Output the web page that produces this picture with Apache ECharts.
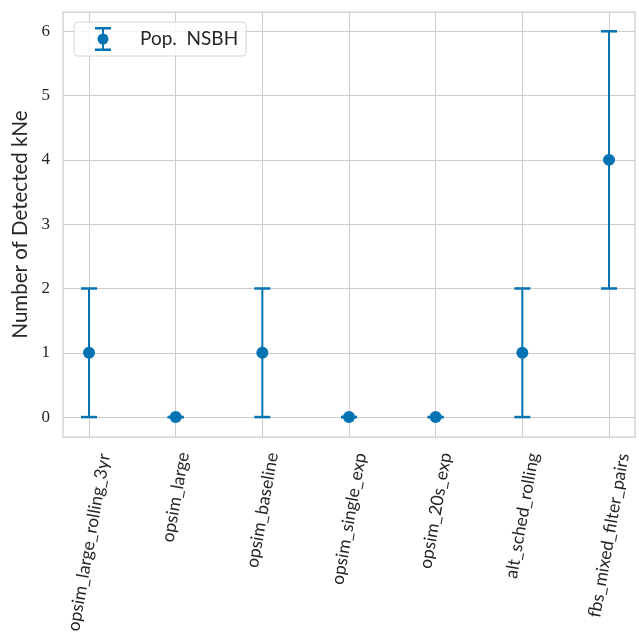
<!DOCTYPE html>
<html>
<head>
<meta charset="utf-8">
<script src="https://cdn.jsdelivr.net/npm/echarts@6/dist/echarts.min.js"></script>
<style>
  html, body { margin: 0; padding: 0; background: #ffffff; }
  #chart { width: 639px; height: 638px; }
</style>
</head>
<body>
<div id="chart"></div>
<script>
// Survey strategies (x categories)
const strategies = [
  'opsim_large_rolling_3yr',
  'opsim_large',
  'opsim_baseline',
  'opsim_single_exp',
  'opsim_20s_exp',
  'alt_sched_rolling',
  'fbs_mixed_filter_pairs'
];
// Detected kilonovae for the NSBH population, with error range
const detected = [1, 0, 1, 0, 0, 1, 4];
const lowerBound = [0, 0, 0, 0, 0, 0, 2];
const upperBound = [2, 0, 2, 0, 0, 2, 6];
// Tick values
const yTicks = [0, 1, 2, 3, 4, 5, 6];
const xTicks = strategies.map((_, i) => i);

const blue = '#0173b2';
const gridGray = '#cccccc';
const textColor = '#262626';
const labelFont = 'Lato, "Open Sans", sans-serif';
const labelSize = 17.5;
const labelAngle = 80;

// Offset each rotated label so its footprint is centred under its tick
const ctx = document.createElement('canvas').getContext('2d');
ctx.font = labelSize + 'px ' + labelFont;
const rad = labelAngle * Math.PI / 180;
const rich = {};
strategies.forEach((s, i) => {
  const w = ctx.measureText(s).width;
  rich['r' + i] = {
    fontFamily: labelFont,
    fontSize: labelSize,
    color: textColor,
    padding: [w * Math.cos(rad) / Math.sin(rad), 0, 0, 0]
  };
});

const errorPoints = strategies.map((_, i) => [i, lowerBound[i], upperBound[i]]);
const valuePoints = strategies.map((_, i) => [i, detected[i]]);

const legendIcon = 'path://M0 0H16V2.5H0Z M0 21.5H16V24H0Z M7 0H9V24H7Z ' +
  'M2.5 12A5.5 5.5 0 1 1 13.5 12A5.5 5.5 0 1 1 2.5 12Z';

const chart = echarts.init(document.getElementById('chart'), null, { renderer: 'canvas' });
chart.setOption({
  animation: false,
  backgroundColor: '#ffffff',
  grid: {
    left: 63, right: 4, top: 12, bottom: 201,
    show: true, borderColor: gridGray, borderWidth: 1.25,
    containLabel: false
  },
  legend: {
    left: 74, top: 22,
    padding: [5, 8, 5, 21],
    itemWidth: 16, itemHeight: 24,
    backgroundColor: 'rgba(255,255,255,0.8)',
    borderColor: '#d6d6d6', borderWidth: 1, borderRadius: 4,
    data: [{ name: 'Pop. NSBH', icon: legendIcon }],
    formatter: name => name.replace('. ', '.  '),
    textStyle: {
      fontFamily: labelFont, fontSize: 19, color: textColor,
      padding: [0, 0, 0, 24]
    }
  },
  xAxis: {
    type: 'value',
    min: -0.3, max: 6.3,
    axisLine: { show: false },
    axisTick: { show: false, customValues: xTicks },
    splitLine: { show: true, lineStyle: { color: gridGray, width: 1 } },
    axisLabel: {
      customValues: xTicks,
      rotate: labelAngle,
      margin: 14,
      formatter: v => '{r' + v + '|' + strategies[v] + '}',
      rich: rich
    }
  },
  yAxis: {
    type: 'value',
    min: -0.31, max: 6.3,
    name: 'Number of Detected kNe',
    nameLocation: 'middle',
    nameGap: 30,
    nameTextStyle: { fontFamily: labelFont, fontSize: 20.5, color: textColor },
    axisLine: { show: false },
    axisTick: { show: false, customValues: yTicks },
    splitLine: { show: true, lineStyle: { color: gridGray, width: 1 } },
    axisLabel: {
      customValues: yTicks,
      margin: 13,
      fontFamily: '"Liberation Serif", "DejaVu Serif", serif',
      fontSize: 17, color: textColor
    }
  },
  series: [
    {
      name: 'errorbars',
      type: 'custom',
      data: errorPoints,
      encode: { x: 0, y: [1, 2] },
      z: 2,
      renderItem: (params, api) => {
        const x = api.value(0);
        const top = api.coord([x, api.value(2)]);
        const bot = api.coord([x, api.value(1)]);
        const hw = 8;
        return {
          type: 'group',
          children: [
            { type: 'line', shape: { x1: top[0], y1: top[1], x2: bot[0], y2: bot[1] },
              style: { stroke: blue, lineWidth: 2 } },
            { type: 'line', shape: { x1: top[0] - hw, y1: top[1], x2: top[0] + hw, y2: top[1] },
              style: { stroke: blue, lineWidth: 2.5 } },
            { type: 'line', shape: { x1: bot[0] - hw, y1: bot[1], x2: bot[0] + hw, y2: bot[1] },
              style: { stroke: blue, lineWidth: 2.5 } }
          ]
        };
      }
    },
    {
      name: 'Pop. NSBH',
      type: 'scatter',
      data: valuePoints,
      symbol: 'circle',
      symbolSize: 12,
      z: 3,
      itemStyle: { color: blue, opacity: 1 }
    }
  ]
});
</script>
</body>
</html>
